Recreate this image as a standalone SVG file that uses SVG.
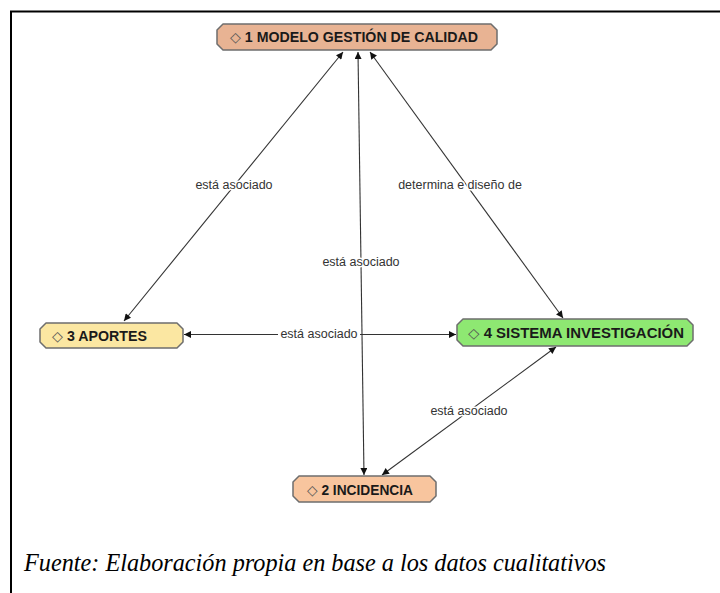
<svg xmlns="http://www.w3.org/2000/svg" width="720" height="593" viewBox="0 0 720 593">
  <defs>
    <marker id="arrow" viewBox="0 0 10 10" refX="10" refY="5" markerWidth="9" markerHeight="7" markerUnits="userSpaceOnUse" orient="auto-start-reverse">
      <path d="M0,0 L10,5 L0,10 Z" fill="#111"/>
    </marker>
  </defs>
  <style>
    .frame { stroke: #000; stroke-width: 2; fill: none; }
    .node { stroke: #6e6e6e; stroke-width: 1.5; stroke-linejoin: round; }
    .ntext { font-family: "Liberation Sans", Arial, sans-serif; font-weight: bold; font-size: 14px; fill: #1a1a1a; }
    .dia { font-family: "DejaVu Sans", sans-serif; font-weight: normal; fill: #555; }
    .edge { stroke: #333; stroke-width: 1.1; fill: none; marker-start: url(#arrow); marker-end: url(#arrow); }
    .ltext { font-family: "Liberation Sans", Arial, sans-serif; font-size: 12.5px; fill: #333; text-anchor: middle; stroke: #fff; stroke-width: 3; paint-order: stroke; stroke-linejoin: round; }
    .caption { font-family: "Liberation Serif", "Times New Roman", serif; font-style: italic; font-size: 25px; fill: #000; }
  </style>

  <rect width="720" height="593" fill="#fff"/>

  <!-- page frame: top rule and left rule -->
  <path class="frame" d="M11,593 V11.5 H720"/>

  <!-- connectors -->
  <g id="connectors">
    <line class="edge" x1="343" y1="52" x2="124" y2="321"/>
    <line class="edge" x1="370" y1="52" x2="563" y2="318"/>
    <line class="edge" x1="184" y1="334.5" x2="456" y2="334.5"/>
    <line class="edge" x1="556" y1="347" x2="382" y2="475"/>
    <rect x="278" y="327" width="82" height="14" fill="#fff"/>
    <line class="edge" x1="358" y1="52" x2="364" y2="475"/>
    <text class="ltext" x="234" y="189">está asociado</text>
    <text class="ltext" x="361" y="266">está asociado</text>
    <text class="ltext" x="460" y="189">determina e diseño de</text>
    <text class="ltext" x="319" y="338" stroke="none">está asociado</text>
    <text class="ltext" x="469" y="415">está asociado</text>
  </g>

  <!-- concepts -->
  <g id="n1">
    <path class="node" fill="#E8B393" d="M223,24 H491 L497,30 V44 L491,50 H223 L217,44 V30 Z"/>
    <text class="ntext" x="230" y="42" textLength="248" lengthAdjust="spacingAndGlyphs"><tspan class="dia">◇</tspan> 1 MODELO GESTIÓN DE CALIDAD</text>
  </g>
  <g id="n3">
    <path class="node" fill="#FBE7A2" d="M46,323 H177 L183,329 V342 L177,348 H46 L40,342 V329 Z"/>
    <text class="ntext" x="52" y="341" textLength="95" lengthAdjust="spacingAndGlyphs"><tspan class="dia">◇</tspan> 3 APORTES</text>
  </g>
  <g id="n4">
    <path class="node" fill="#8EE872" d="M463,319 H687 L693,325 V340 L687,346 H463 L457,340 V325 Z"/>
    <text class="ntext" x="468" y="338" textLength="216" lengthAdjust="spacingAndGlyphs"><tspan class="dia">◇</tspan> 4 SISTEMA INVESTIGACIÓN</text>
  </g>
  <g id="n2">
    <path class="node" fill="#F8C59E" d="M299,476 H430 L436,482 V496 L430,502 H299 L293,496 V482 Z"/>
    <text class="ntext" x="307" y="495" textLength="106" lengthAdjust="spacingAndGlyphs"><tspan class="dia">◇</tspan> 2 INCIDENCIA</text>
  </g>

  <text class="caption" x="24" y="571" textLength="582" lengthAdjust="spacingAndGlyphs">Fuente: Elaboración propia en base a los datos cualitativos</text>
</svg>
